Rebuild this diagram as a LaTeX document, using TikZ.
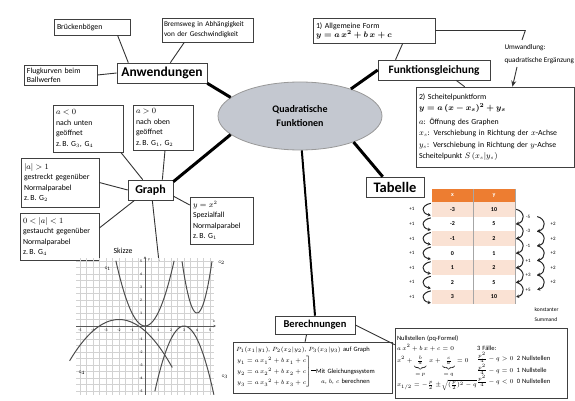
\documentclass[tikz,border=0pt]{standalone}
\usepackage{amsmath}
\usepackage{fontspec}
\setmainfont{Carlito}
\usetikzlibrary{arrows.meta,calc,shapes.geometric}

\definecolor{zentrum}{RGB}{196,200,208}
\definecolor{kopf}{RGB}{237,125,49}
\definecolor{zeile}{RGB}{250,226,212}

\newcommand{\klein}{\fontsize{7.8}{10.5}\selectfont}
\newcommand{\eng}{\fontsize{7.8}{9}\selectfont}
\newcommand{\winzig}{\fontsize{5}{6}\selectfont}
\newcommand{\achse}{\fontsize{3.8}{4}\selectfont}

\begin{document}
\begin{tikzpicture}[x=1pt,y=-1pt,>=Stealth,
  leaf/.style={draw=black!75,line width=.6pt,fill=white,font=\klein,align=left,inner sep=3pt},
  topic/.style={draw=black!75,line width=.6pt,fill=white,font=\bfseries\fontsize{12}{14}\selectfont,inner sep=3pt},
  twig/.style={black!80,line width=.9pt},
  branch/.style={black,line width=3pt},
  kurve/.style={black!70,line width=1pt},
  bogen/.style={black!85,line width=1pt,-{Stealth[length=3pt,width=3.5pt]}},
  zelle/.style={minimum width=41,minimum height=14.6,inner sep=0pt,font=\bfseries\fontsize{6}{7}\selectfont}]
\useasboundingbox (0,0) rectangle (575,401);

% Mitte
\node[ellipse,draw=black!40,line width=.8pt,fill=zentrum,minimum width=164,minimum height=68,align=center,font=\bfseries\fontsize{10}{14}\selectfont] (qf) at (300,116) {Quadratische\\Funktionen};

% Anwendungen
\node[topic,font=\bfseries\fontsize{13.5}{15}\selectfont,minimum width=90,minimum height=20,inner sep=1pt] (anw) at (162,73) {Anwendungen};
\node[leaf,text width=70,minimum height=16] (brueck) at (92,27) {Brückenbögen};
\node[leaf,font=\fontsize{7.3}{10}\selectfont,text width=87,inner xsep=2pt,minimum height=24] (brems) at (207.5,30) {Bremsweg in Abhängigkeit\\von der Geschwindigkeit};
\node[leaf,font=\eng,text width=67,minimum height=20,inner ysep=1pt] (flug) at (60.5,75) {Flugkurven beim\\Ballwerfen};
\draw[twig] (brueck.-18) -- (anw.163);
\draw[twig] (brems.208) -- (anw.51);
\draw[twig] (flug.east) -- (anw.west);
\draw[branch] (anw.south east) -- (qf.165);

% Funktionsgleichung
\node[topic,font=\bfseries\fontsize{11.3}{13}\selectfont,minimum width=112,minimum height=20] (funk) at (434,70) {Funktionsgleichung};
\node[leaf,font=\eng,text width=116,minimum height=25] (allg) at (374,30.5) {1) Allgemeine Form\\{\boldmath\fontsize{8.5}{10}\selectfont$y = a\,x^2 + b\,x + c$}};
\node[leaf,font=\fontsize{7.8}{11.5}\selectfont,text width=152,minimum height=80] (scheitel) at (495,127) {2) Scheitelpunktform\\
{\boldmath\fontsize{8.5}{10}\selectfont$y = a\,(x - x_s)^2 + y_s$}\\[2pt]
$a$: Öffnung des Graphen\\
$x_s$: Verschiebung in Richtung der $x$-Achse\\
$y_s$: Verschiebung in Richtung der $y$-Achse\\
Scheitelpunkt $S\,(x_s|y_s)$};
\node[font=\fontsize{7.2}{13}\selectfont,align=left,anchor=west] (umw) at (501,54) {Umwandlung:\\quadratische Ergänzung};
\coordinate (umwoben) at (522,40);
\coordinate (umwunten) at (517,67);
\draw[twig] (allg.east) -- ++(90,0) -- (umwoben);
\draw[twig,-{Stealth[length=6pt,width=5pt]}] (umwunten) -- ($(scheitel.north west)!0.61!(scheitel.north east)$);
\draw[twig] (allg.-24) -- (funk.165);
\draw[twig] (funk.-25) -- (scheitel.127);
\draw[branch] (qf.28) -- (funk.west);

% Tabelle
\node[topic,font=\bfseries\fontsize{14.5}{16}\selectfont,minimum width=58,minimum height=20,inner sep=1pt] (tab) at (395,187) {Tabelle};
\draw[branch] (qf.-26) -- (tab.140);
\node[zelle,fill=kopf,text=white,minimum height=13] (hx) at (452.5,195.5) {x};
\node[zelle,fill=kopf,text=white,minimum width=42,minimum height=13] (hy) at (494,195.5) {y};
\foreach \xv/\yv [count=\i] in {-3/10,-2/5,-1/2,0/1,1/2,2/5,3/10}{
  \ifodd\i\def\farbe{zeile}\else\def\farbe{white}\fi
  \node[zelle,fill=\farbe] (tx\i) at (452.5,{202+14.6*(\i-0.5)}) {\xv};
  \node[zelle,fill=\farbe,minimum width=42] (ty\i) at (494,{202+14.6*(\i-0.5)}) {\yv};
  \draw[bogen] ($(tx\i.west)+(-1,-6)$) .. controls +(-10,2) and +(-10,-2) .. ($(tx\i.west)+(-1,6)$);
  \node[font=\winzig] (pl\i) at ($(tx\i.west)+(-20,0)$) {+1};
}
\draw[black!35,line width=.6pt] (hx.north east) -- (tx7.south east);
\draw[black!35,line width=.6pt] (hy.north east) -- (ty7.south east);
\foreach \d [count=\i] in {-5,-3,-1,+1,+3,+5}{
  \pgfmathtruncatemacro\j{\i+1}
  \draw[bogen] ($(ty\i.east)+(1,0)$) .. controls +(9,2) and +(9,-2) .. ($(ty\j.east)+(1,0)$);
  \node[font=\winzig] (dy\i) at ($(ty\i.east)!0.5!(ty\j.east)+(13,0)$) {\d};
}
\foreach \i in {1,...,5}{
  \pgfmathtruncatemacro\j{\i+1}
  \draw[bogen] ($(dy\i)+(9,0)$) .. controls +(9,2) and +(9,-2) .. ($(dy\j)+(9,0)$);
  \node[font=\winzig] (zw\i) at ($(dy\i)!0.5!(dy\j)+(25,0)$) {+2};
}
\node[font=\fontsize{5.5}{10}\selectfont,align=left,anchor=north west] (summand) at (531,304) {konstanter\\Summand};

% Graph
\node[topic,minimum width=45,minimum height=20] (graph) at (150.5,190) {Graph};
\node[leaf,text width=64,minimum height=47] (aneg) at (88,128.5) {$a<0$\\nach unten\\geöffnet\\z.\,B. G$_3$, G$_4$};
\node[leaf,text width=54,minimum height=45] (apos) at (163,127.5) {$a>0$\\nach oben\\geöffnet\\z.\,B. G$_1$, G$_2$};
\node[leaf,text width=72,minimum height=49] (astr) at (60,182.5) {$|a|>1$\\gestreckt gegenüber\\Normalparabel\\z.\,B. G$_2$};
\node[leaf,text width=73,minimum height=47] (asta) at (59.5,236.5) {$0<|a|<1$\\gestaucht gegenüber\\Normalparabel\\z.\,B. G$_4$};
\node[leaf,text width=57,minimum height=47] (normal) at (221.5,220.5) {$y=x^2$\\Spezialfall\\Normalparabel\\z.\,B. G$_1$};
\draw[twig] (aneg.-36) -- (graph.127);
\draw[twig] (apos.-85) -- (graph.41);
\draw[twig] (astr.east) -- (graph.west);
\draw[twig] (asta.12) -- (graph.213);
\draw[twig] (normal.154) -- (graph.-15);
\draw[branch] (graph.20) -- (qf.195);
\coordinate (skz) at (159,262);
\draw[twig] (graph.-80) -- (skz);
\node[font=\klein] (skizze) at (123,251) {Skizze};

% Skizze
\begin{scope}[shift={(145,326)},x=13pt,y=13pt]
  \draw[gray!35,line width=.3pt] (-5.3,-5.3) grid[step=.5] (5.3,5.25);
  \draw[black!65,line width=.8pt,-{Stealth[length=2.5pt,width=2.5pt]}] (-5.3,0) -- (5.45,0);
  \draw[black!65,line width=.8pt,-{Stealth[length=2.5pt,width=2.5pt]}] (0,-5.3) -- (0,5.35);
  \foreach \t in {-5,-4,-3,-2,-1,1,2,3,4,5}{
    \node[font=\achse] (sx\t) at (\t,-0.35) {\t};
    \node[font=\achse] (sy\t) at (-0.3,\t) {\t};
  }
  \node[font=\achse] (xl) at (5.3,0.35) {x};
  \node[font=\achse] (yl) at (0.3,5.05) {y};
  \draw[kurve] plot[domain=-2.24:2.24,samples=40] (\x,{\x*\x});
  \draw[kurve] plot[domain=2.85:5.15,samples=40] (\x,{3*(\x-4)*(\x-4)+1});
  \draw[kurve] plot[domain=0.76:5.3,samples=40] (\x,{-(\x-3)*(\x-3)});
  \draw[kurve] plot[domain=-5.8:2.1,samples=40] (\x,{-0.22*(\x+2)*(\x+2)+0.5});
  \node[font=\achse] (g1) at (-2.85,4.4) {G$_1$};
  \node[font=\achse] (g2) at (5.9,4.85) {G$_2$};
  \node[font=\achse] (g3) at (6.15,-3.9) {G$_3$};
  \node[font=\achse] (g4) at (-4.85,-3.6) {G$_4$};
\end{scope}

% Berechnungen
\node[topic,font=\bfseries\fontsize{10.5}{12}\selectfont,minimum width=80,minimum height=18,inner ysep=1pt] (ber) at (315,325) {Berechnungen};
\draw[branch,line width=2pt] (qf.-87) -- (ber.north);
\node[leaf,font=\fontsize{6.5}{10}\selectfont,text width=153,minimum height=51] (gls) at (312.5,367.5) {$P_1(x_1|y_1)$, $P_2(x_2|y_2)$, $P_3(x_3|y_3)$ auf Graph\\[1.5pt]
$\renewcommand{\arraystretch}{1.1}\left.\begin{array}{@{}l@{}} y_1 = a\,x_1{}^2 + b\,x_1 + c\\ y_2 = a\,x_2{}^2 + b\,x_2 + c\\ y_3 = a\,x_3{}^2 + b\,x_3 + c\end{array}\right]$\rule[2.2pt]{5pt}{.6pt}\begin{tabular}[t]{@{}c@{}}Mit Gleichungssystem\\$a$, $b$, $c$ berechnen\end{tabular}};
\node[leaf,font=\fontsize{6.5}{10}\selectfont,text width=168,inner xsep=2pt,minimum height=70] (null) at (481,363) {Nullstellen (pq-Formel)\\
\begin{minipage}[t]{80pt}\raggedright
$a\,x^2 + b\,x + c = 0$\\[2pt]
$x^2 + \underbrace{\tfrac{b}{a}}_{=\,p}\,x + \underbrace{\tfrac{c}{a}}_{=\,q} = 0$\\[1pt]
{\fontsize{5.8}{10}\selectfont$x_{1/2} = -\tfrac{p}{2} \pm\! \sqrt{(\tfrac{p}{2})^2 - q}$}
\end{minipage}\begin{minipage}[t]{88pt}\raggedright
3 Fälle:\\
$\tfrac{p^2}{4} - q > 0$\enspace 2 Nullstellen\\
$\tfrac{p^2}{4} - q = 0$\enspace 1 Nullstelle\\
$\tfrac{p^2}{4} - q < 0$\enspace 0 Nullstellen
\end{minipage}};
\draw[twig] (ber.-132) -- (gls.106);
\draw[twig] (ber.east) -- (null.168);
\end{tikzpicture}
\end{document}
